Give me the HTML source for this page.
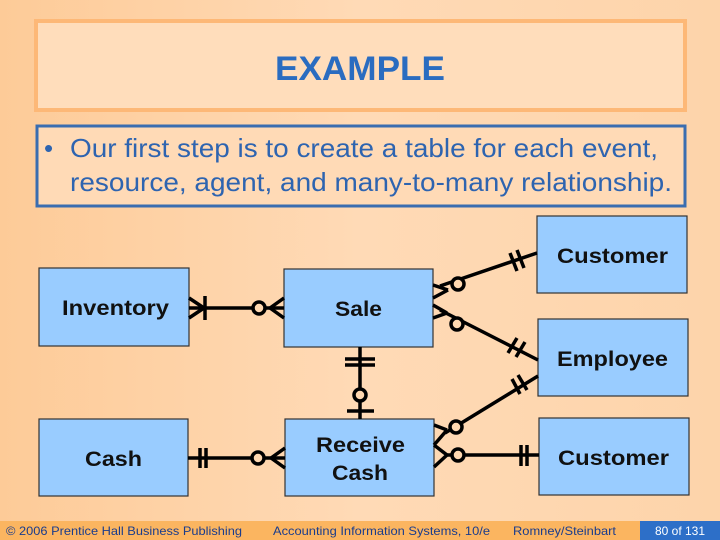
<!DOCTYPE html>
<html><head><meta charset="utf-8"><style>
body{margin:0;width:720px;height:540px;overflow:hidden;font-family:"Liberation Sans",Arial,sans-serif;}
</style></head><body>
<svg width="720" height="540" xmlns="http://www.w3.org/2000/svg" style="display:block">
<defs><linearGradient id="bg" x1="0" y1="0" x2="1" y2="0"><stop offset="0" stop-color="#FDCB98"/><stop offset="0.5" stop-color="#FFDAB6"/><stop offset="1" stop-color="#FDD4AA"/></linearGradient></defs>
<rect width="720" height="540" fill="url(#bg)"/>
<rect x="36" y="21" width="649" height="89" fill="#FFDDBB" stroke="#FDB877" stroke-width="4"/>
<text x="275" y="80" textLength="170" lengthAdjust="spacingAndGlyphs" font-size="34" font-weight="bold" fill="#2A6CC0">EXAMPLE</text>
<rect x="37" y="126" width="648" height="80" fill="#FFDAB6" stroke="#3A6DB0" stroke-width="3"/>
<g font-size="26" fill="#2E64B0"><text x="44" y="157">•</text><text x="70" y="157" textLength="588" lengthAdjust="spacingAndGlyphs">Our first step is to create a table for each event,</text><text x="70" y="191" textLength="602" lengthAdjust="spacingAndGlyphs">resource, agent, and many-to-many relationship.</text></g>
<g fill="#99CCFF" stroke="#333" stroke-width="1.2">
<rect x="537" y="216" width="150" height="77"/>
<rect x="39" y="268" width="150" height="78"/>
<rect x="284" y="269" width="149" height="78"/>
<rect x="538" y="319" width="150" height="77"/>
<rect x="39" y="419" width="149" height="77"/>
<rect x="285" y="419" width="149" height="77"/>
<rect x="539" y="418" width="150" height="77"/>
</g>
<g font-size="21" font-weight="bold" fill="#111" lengthAdjust="spacingAndGlyphs">
<text x="557" y="263" textLength="111" lengthAdjust="spacingAndGlyphs">Customer</text>
<text x="62" y="315" textLength="107" lengthAdjust="spacingAndGlyphs">Inventory</text>
<text x="335" y="316" textLength="47" lengthAdjust="spacingAndGlyphs">Sale</text>
<text x="557" y="366" textLength="111" lengthAdjust="spacingAndGlyphs">Employee</text>
<text x="85" y="466" textLength="57" lengthAdjust="spacingAndGlyphs">Cash</text>
<text x="316" y="452" textLength="89" lengthAdjust="spacingAndGlyphs">Receive</text>
<text x="332" y="480" textLength="56" lengthAdjust="spacingAndGlyphs">Cash</text>
<text x="558" y="465" textLength="111" lengthAdjust="spacingAndGlyphs">Customer</text>
</g>
<g stroke="#000" stroke-width="3.5" fill="none">
<line x1="189" y1="308" x2="284" y2="308"/>
<line x1="189" y1="298" x2="204" y2="308"/><line x1="189" y1="318" x2="204" y2="308"/><line x1="205" y1="296" x2="205" y2="320"/>
<circle cx="259" cy="308" r="6" fill="#FFD8B0"/>
<line x1="284" y1="298" x2="270" y2="308"/><line x1="284" y1="318" x2="270" y2="308"/>
<line x1="440" y1="286" x2="537" y2="253"/>
<circle cx="458" cy="284" r="6" fill="#FFD8B0"/>
<line x1="433" y1="285" x2="448" y2="290"/><line x1="433" y1="298" x2="448" y2="290"/>
<line x1="510" y1="253" x2="517" y2="271"/><line x1="517" y1="250" x2="524" y2="268"/>
<line x1="440" y1="310" x2="538" y2="360"/>
<circle cx="457" cy="324" r="6" fill="#FFD8B0"/>
<line x1="433" y1="305" x2="447" y2="313"/><line x1="433" y1="318" x2="447" y2="313"/>
<line x1="508" y1="353" x2="517" y2="338"/><line x1="516" y1="357" x2="525" y2="342"/>
<line x1="360" y1="347" x2="360" y2="419"/>
<line x1="345" y1="359" x2="375" y2="359"/><line x1="345" y1="365" x2="375" y2="365"/>
<circle cx="360" cy="395" r="6" fill="#FFD8B0"/>
<line x1="347" y1="411" x2="374" y2="411"/>
<line x1="188" y1="458" x2="285" y2="458"/>
<line x1="200" y1="448" x2="200" y2="468"/><line x1="206" y1="448" x2="206" y2="468"/>
<circle cx="258" cy="458" r="6" fill="#FFD8B0"/>
<line x1="285" y1="448" x2="271" y2="458"/><line x1="285" y1="468" x2="271" y2="458"/>
<line x1="445" y1="433" x2="538" y2="376"/>
<circle cx="456" cy="427" r="6" fill="#FFD8B0"/>
<line x1="434" y1="425" x2="447" y2="430"/><line x1="434" y1="445" x2="447" y2="430"/>
<line x1="512" y1="379" x2="520" y2="394"/><line x1="518" y1="375" x2="527" y2="390"/>
<line x1="445" y1="455" x2="539" y2="455"/>
<circle cx="458" cy="455" r="6" fill="#FFD8B0"/>
<line x1="434" y1="445" x2="447" y2="455"/><line x1="434" y1="467" x2="447" y2="455"/>
<line x1="521" y1="445" x2="521" y2="466"/><line x1="527" y1="445" x2="527" y2="466"/>
</g>
<rect x="0" y="521" width="640" height="19" fill="#FBB560"/>
<rect x="640" y="521" width="80" height="19" fill="#2D6FC8"/>
<g font-size="12" fill="#1A3C8C">
<text x="6" y="535" textLength="236" lengthAdjust="spacingAndGlyphs">© 2006 Prentice Hall Business Publishing</text>
<text x="273" y="535" textLength="217" lengthAdjust="spacingAndGlyphs">Accounting Information Systems, 10/e</text>
<text x="513" y="535" textLength="103" lengthAdjust="spacingAndGlyphs">Romney/Steinbart</text>
</g>
<text x="655" y="535" font-size="12" fill="#fff" textLength="50" lengthAdjust="spacingAndGlyphs">80 of 131</text>
</svg>
</body></html>
